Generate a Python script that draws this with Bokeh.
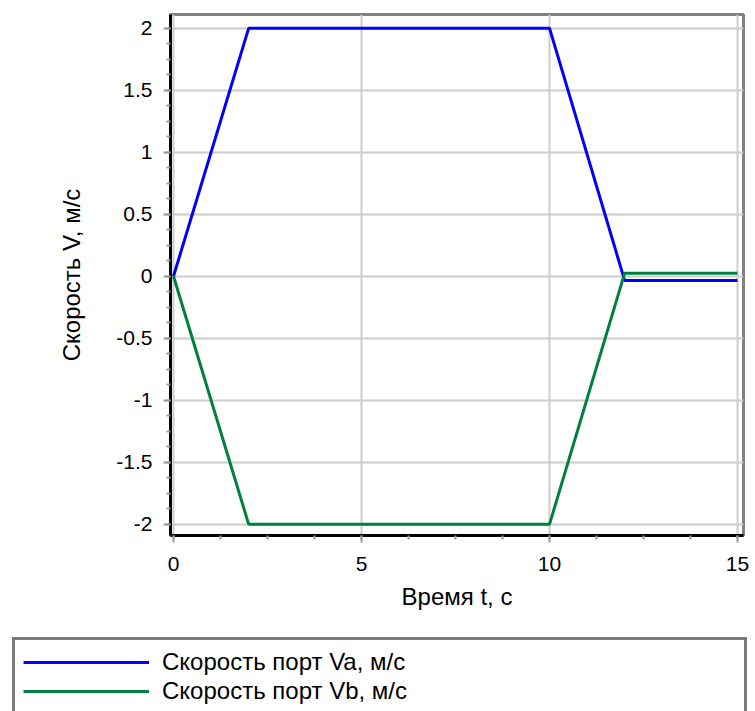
from bokeh.plotting import figure
from bokeh.layouts import column
from bokeh.models import (Range1d, SingleIntervalTicker, NumeralTickFormatter,
                          Legend, LegendItem, ColumnDataSource)
from bokeh.embed import file_html
from bokeh.resources import INLINE

# ---- data ----
t_a = [0, 2, 10, 12, 15]
v_a = [0, 2, 2, -0.035, -0.035]
t_b = [0, 2, 10, 12, 15]
v_b = [0, -2, -2, 0.025, 0.025]
name_a = "Скорость порт Va, м/с"
name_b = "Скорость порт Vb, м/с"
x_title = "Время t, с"
y_title = "Скорость V, м/с"

FONT = "Liberation Sans"
COL_A = "#0000ff"
COL_B = "#008040"

src_a = ColumnDataSource(dict(t=t_a, v=v_a))
src_b = ColumnDataSource(dict(t=t_b, v=v_b))

p = figure(frame_width=573, frame_height=521,
           min_border_left=170, min_border_right=12,
           min_border_top=14, min_border_bottom=85,
           x_range=Range1d(-0.08, 15.16), y_range=Range1d(-2.09, 2.11),
           output_backend="svg", toolbar_location=None)
p.frame_align = False

p.background_fill_color = "white"
p.border_fill_color = "white"
p.outline_line_color = "#808080"
p.outline_line_width = 3

p.line(x="t", y="v", source=src_a, line_color=COL_A, line_width=3)
p.line(x="t", y="v", source=src_b, line_color=COL_B, line_width=3)

p.xaxis.ticker = SingleIntervalTicker(interval=5, num_minor_ticks=4)
p.yaxis.ticker = SingleIntervalTicker(interval=0.5, num_minor_ticks=4)
p.yaxis.formatter = NumeralTickFormatter(format="0.[0]")
p.xaxis.formatter = NumeralTickFormatter(format="0")

for ax in (p.xaxis[0], p.yaxis[0]):
    ax.axis_line_color = "black"
    ax.axis_line_width = 3
    ax.major_tick_line_color = "#9a9a9a"
    ax.minor_tick_line_color = "#9a9a9a"
    ax.major_tick_line_width = 2
    ax.minor_tick_line_width = 2
    ax.major_tick_in = 0
    ax.major_tick_out = 7
    ax.minor_tick_in = 0
    ax.minor_tick_out = 4
    ax.major_label_text_font = FONT
    ax.major_label_text_font_size = "21px"
    ax.major_label_text_color = "black"
    ax.axis_label_text_font = FONT
    ax.axis_label_text_font_size = "24px"
    ax.axis_label_text_font_style = "normal"
    ax.axis_label_text_color = "black"

p.xaxis.axis_label = x_title
p.yaxis.axis_label = y_title
p.xaxis.major_label_standoff = 14
p.yaxis.major_label_standoff = 11
p.xaxis.axis_label_standoff = 9
p.yaxis.axis_label_standoff = 28

p.grid.grid_line_color = "#cccccc"
p.grid.grid_line_width = 2
p.xgrid.ticker = p.xaxis.ticker
p.ygrid.ticker = p.yaxis.ticker

# ---- legend panel below the chart (its ranges keep the series out of view) ----
lg = figure(width=755, height=91, min_border=0,
            x_range=Range1d(0, 1), y_range=Range1d(100, 101),
            x_axis_type=None, y_axis_type=None,
            output_backend="svg", toolbar_location=None)
lg.frame_align = False
lg.outline_line_color = None
lg.grid.visible = False
la = lg.line(x="t", y="v", source=src_a, line_color=COL_A, line_width=3)
lb = lg.line(x="t", y="v", source=src_b, line_color=COL_B, line_width=3)

legend = Legend(items=[LegendItem(label=name_a, renderers=[la]),
                       LegendItem(label=name_b, renderers=[lb])],
                location=(12, -5),
                orientation="vertical",
                padding=8, spacing=1, margin=0,
                glyph_width=126, glyph_height=26,
                label_height=26, label_width=574, label_standoff=13,
                label_text_font=FONT, label_text_font_size="24px",
                label_text_color="black",
                border_line_color="#7a7a7a", border_line_width=3,
                border_line_alpha=1,
                background_fill_color="white", background_fill_alpha=1)
lg.add_layout(legend, "center")

layout = column(p, lg, spacing=0)
open("out.html", "w").write(file_html(layout, INLINE))
